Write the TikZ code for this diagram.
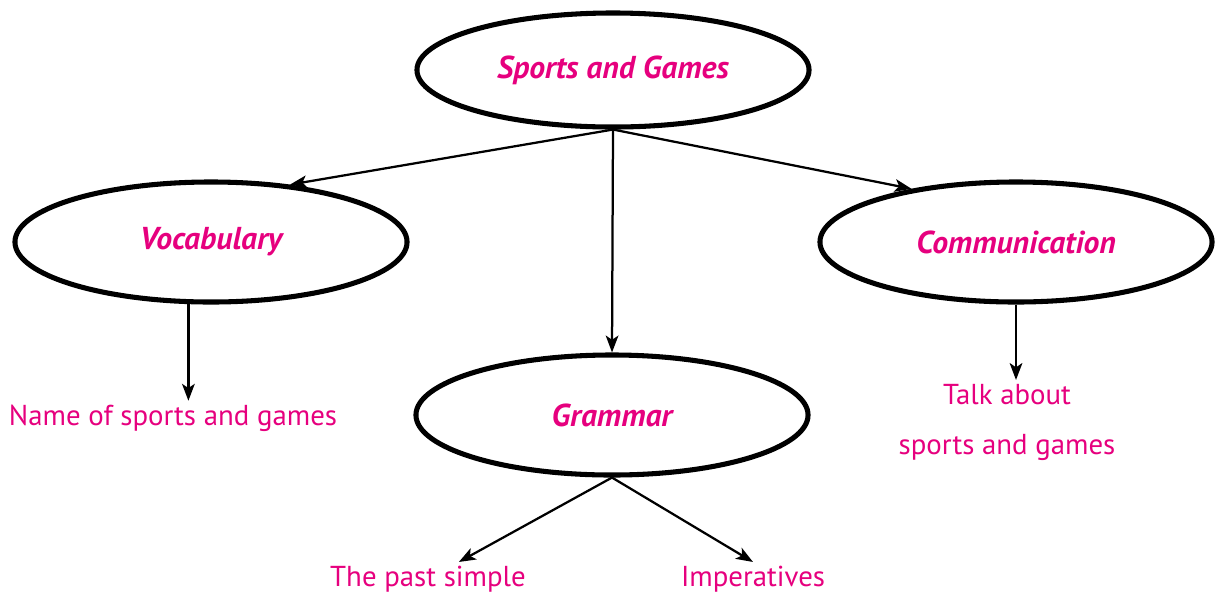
\documentclass[tikz,border=0pt]{standalone}
\usepackage{fontspec}
\setmainfont{PT Sans}
\usetikzlibrary{arrows.meta,shapes.geometric}
\definecolor{pinktext}{RGB}{230,0,126}

\begin{document}
\begin{tikzpicture}[x = 0.025cm, y = -0.025cm, line width = 1.6pt,
						oval/.style = {ellipse, draw, line width = 3.6pt,
						minimum width = 9.8cm, minimum height = 2.85cm,
						text = pinktext, font = \fontsize{22.5}{27}\selectfont\bfseries\itshape},
						leaf/.style = {text = pinktext, align = center, inner sep = 2pt,
						font = \fontsize{20.5}{35.5}\selectfont},
						arr/.style = {-{Stealth[length = 12pt, width = 9pt, inset = 3pt]}}]

				\useasboundingbox (0,0) rectangle (1222,594);

				\node [oval] (sports) at (613,70) {Sports and Games};
				\node [oval, minimum height = 3cm] (vocab) at (211,242) {Vocabulary};
				\node [oval, minimum height = 3cm] (comm) at (1016,242) {Communication};
				\node [oval, minimum height = 3cm] (gram) at (612,415) {Grammar};

				\node [leaf] (name) at (173,418) {Name of sports and games};
				\node [leaf] (talk) at (1007,422) {Talk about\\sports and games};
				\node [leaf] (past) at (428,579) {The past simple};
				\node [leaf] (imp) at (753,579) {Imperatives};

				\draw [arr] (sports.south) -- (vocab.36);
				\draw [arr] (sports.south) -- (comm.153);
				\draw [arr] (sports.south) -- (gram.north);
				\draw [arr] (vocab.250) -- (vocab.250 |- name.north);
				\draw [arr] (comm.south) -- (comm.south |- talk.north);
				\draw [arr] (gram.south) -- (past);
				\draw [arr] (gram.south) -- (imp.north);
			\end{tikzpicture}
\end{document}
